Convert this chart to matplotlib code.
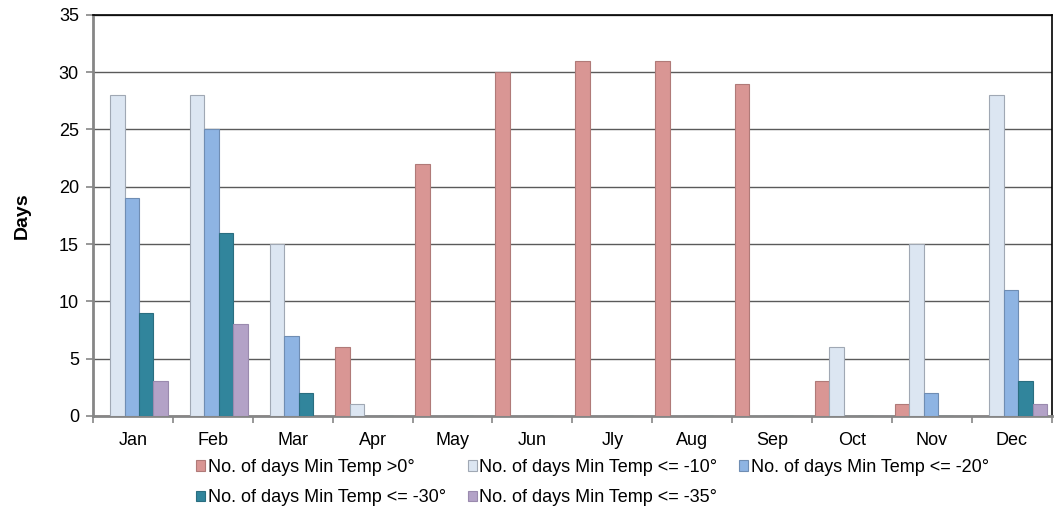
import numpy as np
import matplotlib.pyplot as plt

plt.rcParams['font.family'] = ['Liberation Sans', 'DejaVu Sans']

months = ["Jan", "Feb", "Mar", "Apr", "May", "Jun", "Jly", "Aug", "Sep", "Oct", "Nov", "Dec"]

above_0 = [0, 0, 0, 6, 22, 30, 31, 31, 29, 3, 1, 0]
below_10 = [28, 28, 15, 1, 0, 0, 0, 0, 0, 6, 15, 28]
below_20 = [19, 25, 7, 0, 0, 0, 0, 0, 0, 0, 2, 11]
below_30 = [9, 16, 2, 0, 0, 0, 0, 0, 0, 0, 0, 3]
below_35 = [3, 8, 0, 0, 0, 0, 0, 0, 0, 0, 0, 1]

series = [above_0, below_10, below_20, below_30, below_35]
labels = ["No. of days Min Temp >0°", "No. of days Min Temp <= -10°",
          "No. of days Min Temp <= -20°", "No. of days Min Temp <= -30°",
          "No. of days Min Temp <= -35°"]
colors = ["#D99694", "#DCE6F2", "#8EB4E3", "#31859C", "#B3A2C7"]
edges = ["#B07a78", "#A0A8B4", "#6F8DB3", "#2A6E80", "#9A8AAE"]

fig = plt.figure(figsize=(10.55, 5.14), dpi=100)
ax = fig.add_axes([0.088, 0.191, 0.909, 0.780])

x = np.arange(len(months))
w = 0.181
handles = []
for i, vals in enumerate(series):
    b = ax.bar(x - 0.0125 + (i - 2) * w, vals, width=w, color=colors[i],
               edgecolor=edges[i], linewidth=0.8, label=labels[i], zorder=3)
    handles.append(b)

ax.set_xlim(-0.5, 11.5)
ax.set_ylim(0, 35)
ax.set_yticks(range(0, 36, 5))
ax.yaxis.grid(True, color="#5a5a5a", linewidth=1.0, zorder=0)
ax.set_axisbelow(True)

ax.set_xticks(x)
ax.set_xticklabels(months)
ax.set_xticks(np.arange(-0.5, 12, 1), minor=True)
ax.tick_params(axis="x", which="major", length=0, pad=12, labelsize=13)
ax.tick_params(axis="x", which="minor", length=5, width=1.2, color="#868686", direction="out")
ax.tick_params(axis="y", length=5, width=1.2, color="#868686", labelsize=13, pad=5)

for s in ["left", "bottom"]:
    ax.spines[s].set_color("#868686")
    ax.spines[s].set_linewidth(2)
for s in ["top", "right"]:
    ax.spines[s].set_color("black")
    ax.spines[s].set_linewidth(1.2)

ax.set_ylabel("Days", fontsize=14, fontweight="bold", labelpad=20)

order = [0, 3, 1, 4, 2]
fig.legend([handles[k] for k in order], [labels[k] for k in order],
           loc="upper left", bbox_to_anchor=(0.186, 0.107), ncol=3, frameon=False,
           fontsize=13, handlelength=0.5, handleheight=0.5, handletextpad=0.15,
           columnspacing=1.2, labelspacing=0.74, borderaxespad=0, borderpad=0)

fig.savefig("out.png", dpi=100)
